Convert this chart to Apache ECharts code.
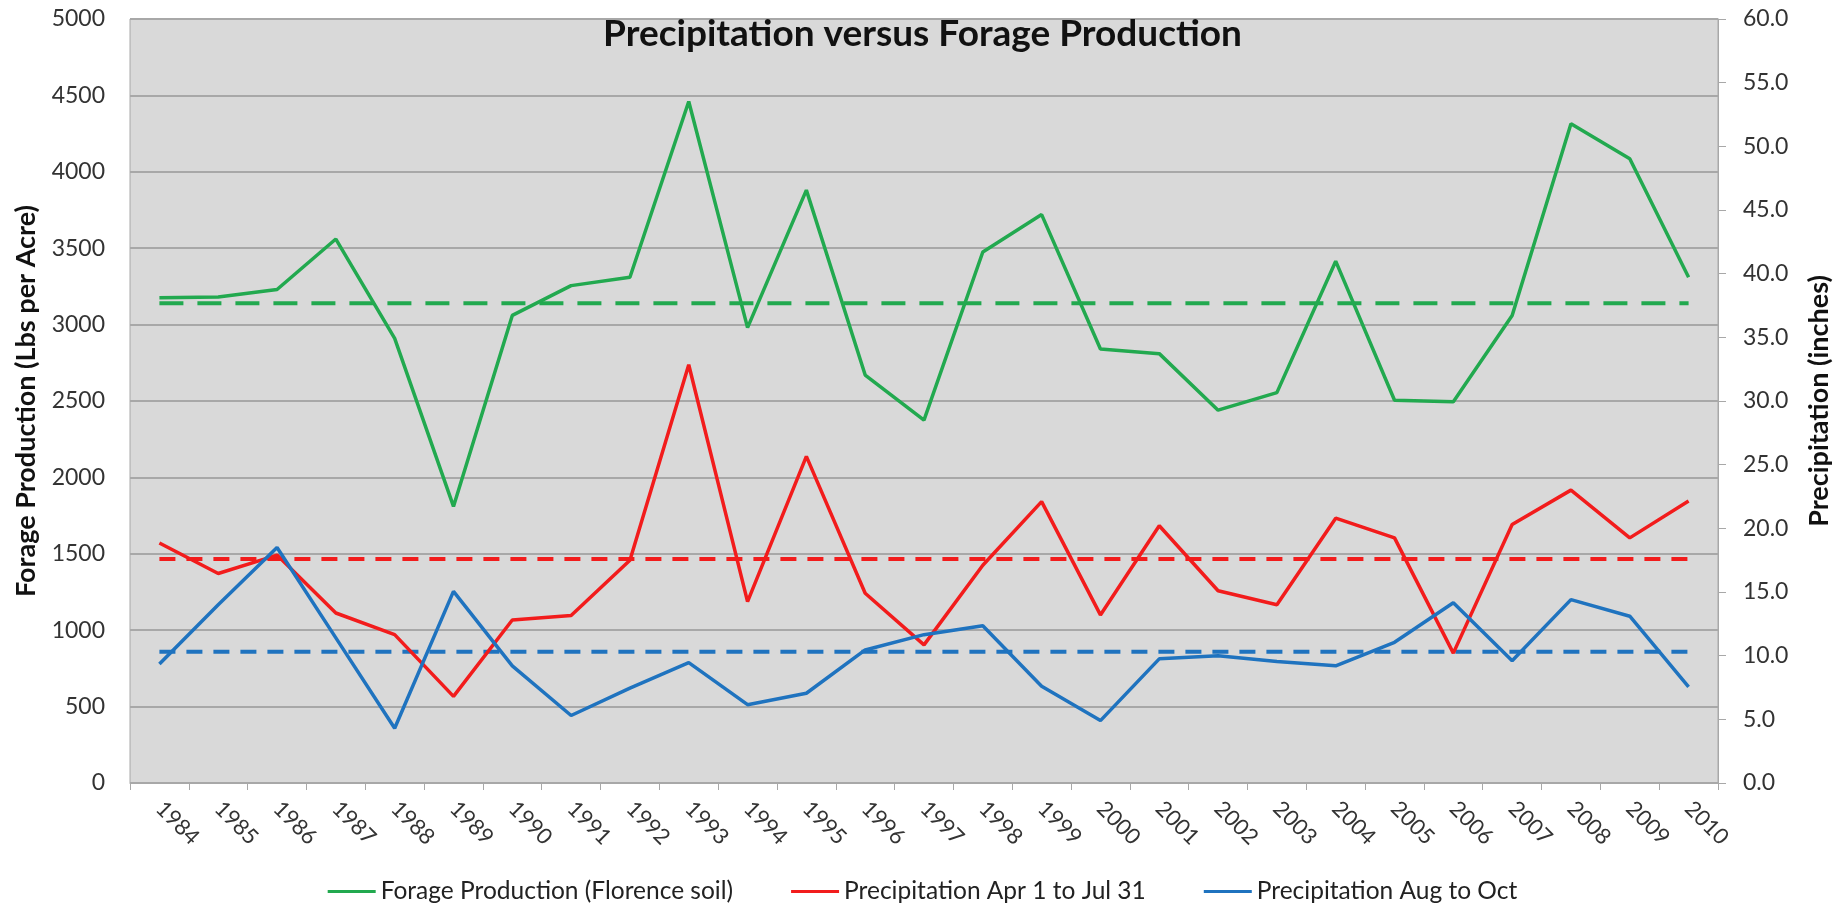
<!DOCTYPE html>
<html>
<head>
<meta charset="utf-8">
<script src="https://cdn.jsdelivr.net/npm/echarts@6.0.0/dist/echarts.min.js"></script>
<style>
html,body{margin:0;padding:0;background:#ffffff;}
#chart{width:1845px;height:907px;}
</style>
</head>
<body>
<div id="chart"></div>
<script>
// ---- data ----
const years = ['1984','1985','1986','1987','1988','1989','1990','1991','1992','1993','1994','1995','1996','1997','1998','1999','2000','2001','2002','2003','2004','2005','2006','2007','2008','2009','2010'];

// Forage production (Lbs per Acre), left axis
const forage = [3175,3180,3230,3560,2910,1810,3060,3255,3310,4460,2980,3880,2670,2375,3475,3720,2840,2810,2440,2555,3415,2505,2495,3060,4315,4085,3310];

// Precipitation Apr 1 to Jul 31 (inches), right axis
const precipAprJul = [18.85,16.45,17.9,13.35,11.65,6.8,12.8,13.15,17.5,32.85,14.25,25.65,14.9,10.85,17.1,22.1,13.2,20.2,15.1,14.0,20.8,19.25,10.2,20.3,23.0,19.25,22.15];

// Precipitation Aug to Oct (inches), right axis
const precipAugOct = [9.35,14.0,18.5,11.4,4.3,15.05,9.2,5.3,7.45,9.45,6.15,7.05,10.45,11.65,12.35,7.6,4.9,9.75,10.0,9.55,9.2,11.05,14.15,9.6,14.4,13.1,7.55];

// Averages (dashed lines)
const forageAvg = 3140;
const aprJulAvg = 17.6;
const augOctAvg = 10.3;

const seriesNames = ['Forage Production (Florence soil)','Precipitation Apr 1 to Jul 31','Precipitation Aug to Oct'];
const chartTitle = 'Precipitation versus Forage Production';
const leftAxisName = 'Forage Production (Lbs per Acre)';
const rightAxisName = 'Precipitation (inches)';

const GREEN = '#22a94f', RED = '#f21c1c', BLUE = '#1f73bf';
const FONT = 'Lato';

const chart = echarts.init(document.getElementById('chart'));
const first = years[0], last = years[years.length - 1];

chart.setOption({
  animation: false,
  backgroundColor: '#ffffff',
  title: {
    text: chartTitle,
    left: 'center',
    top: 11,
    textStyle: {fontFamily: FONT, fontWeight: 'bold', fontSize: 37, color: '#111111'}
  },
  legend: {
    data: seriesNames,
    top: 874,
    left: 'center',
    icon: 'rect',
    itemWidth: 48,
    itemHeight: 3,
    itemGap: 58,
    textStyle: {fontFamily: FONT, fontSize: 24.5, color: '#222222'}
  },
  grid: {
    left: 130, right: 127, top: 19, bottom: 124,
    show: true,
    backgroundColor: '#d9d9d9',
    borderColor: '#a8a8a8',
    borderWidth: 1
  },
  xAxis: {
    type: 'category',
    data: years,
    boundaryGap: true,
    axisLine: {show: true, lineStyle: {color: '#a8a8a8', width: 1}},
    axisTick: {show: true, length: 7, lineStyle: {color: '#a8a8a8'}},
    axisLabel: {rotate: -45, margin: 22, fontFamily: FONT, fontSize: 22, color: '#333333', interval: 0}
  },
  yAxis: [
    {
      type: 'value', min: 0, max: 5000, interval: 500,
      name: leftAxisName, nameLocation: 'middle', nameGap: 90, nameRotate: 90,
      nameTextStyle: {fontFamily: FONT, fontWeight: 'bold', fontSize: 27, color: '#111111'},
      axisLine: {show: false},
      axisTick: {show: false},
      axisLabel: {margin: 25, fontFamily: FONT, fontSize: 23, color: '#333333', formatter: v => String(v)},
      splitLine: {show: true, lineStyle: {color: '#a8a8a8', width: 2}}
    },
    {
      type: 'value', min: 0, max: 60, interval: 5, position: 'right',
      name: rightAxisName, nameLocation: 'middle', nameGap: 88, nameRotate: 90,
      nameTextStyle: {fontFamily: FONT, fontWeight: 'bold', fontSize: 27, color: '#111111'},
      axisLine: {show: true, lineStyle: {color: '#a8a8a8'}},
      axisTick: {show: true, length: 8, lineStyle: {color: '#a8a8a8'}},
      axisLabel: {margin: 25, fontFamily: FONT, fontSize: 23, color: '#333333', formatter: v => v.toFixed(1)},
      splitLine: {show: false}
    }
  ],
  series: [
    {name: seriesNames[0], type: 'line', yAxisIndex: 0, data: forage, symbol: 'none', color: GREEN, lineStyle: {color: GREEN, width: 3.5}, z: 3},
    {name: seriesNames[1], type: 'line', yAxisIndex: 1, data: precipAprJul, symbol: 'none', color: RED, lineStyle: {color: RED, width: 3.5}, z: 3},
    {name: seriesNames[2], type: 'line', yAxisIndex: 1, data: precipAugOct, symbol: 'none', color: BLUE, lineStyle: {color: BLUE, width: 3.5}, z: 3},
    {name: 'forageAvg', type: 'line', yAxisIndex: 0, data: [[first, forageAvg],[last, forageAvg]], symbol: 'none', color: GREEN, lineStyle: {color: GREEN, width: 4, type: [24, 14]}, z: 2},
    {name: 'aprJulAvg', type: 'line', yAxisIndex: 1, data: [[first, aprJulAvg],[last, aprJulAvg]], symbol: 'none', color: RED, lineStyle: {color: RED, width: 4, type: [16, 11]}, z: 2},
    {name: 'augOctAvg', type: 'line', yAxisIndex: 1, data: [[first, augOctAvg],[last, augOctAvg]], symbol: 'none', color: BLUE, lineStyle: {color: BLUE, width: 4, type: [16, 11]}, z: 2}
  ]
});
</script>
</body>
</html>
